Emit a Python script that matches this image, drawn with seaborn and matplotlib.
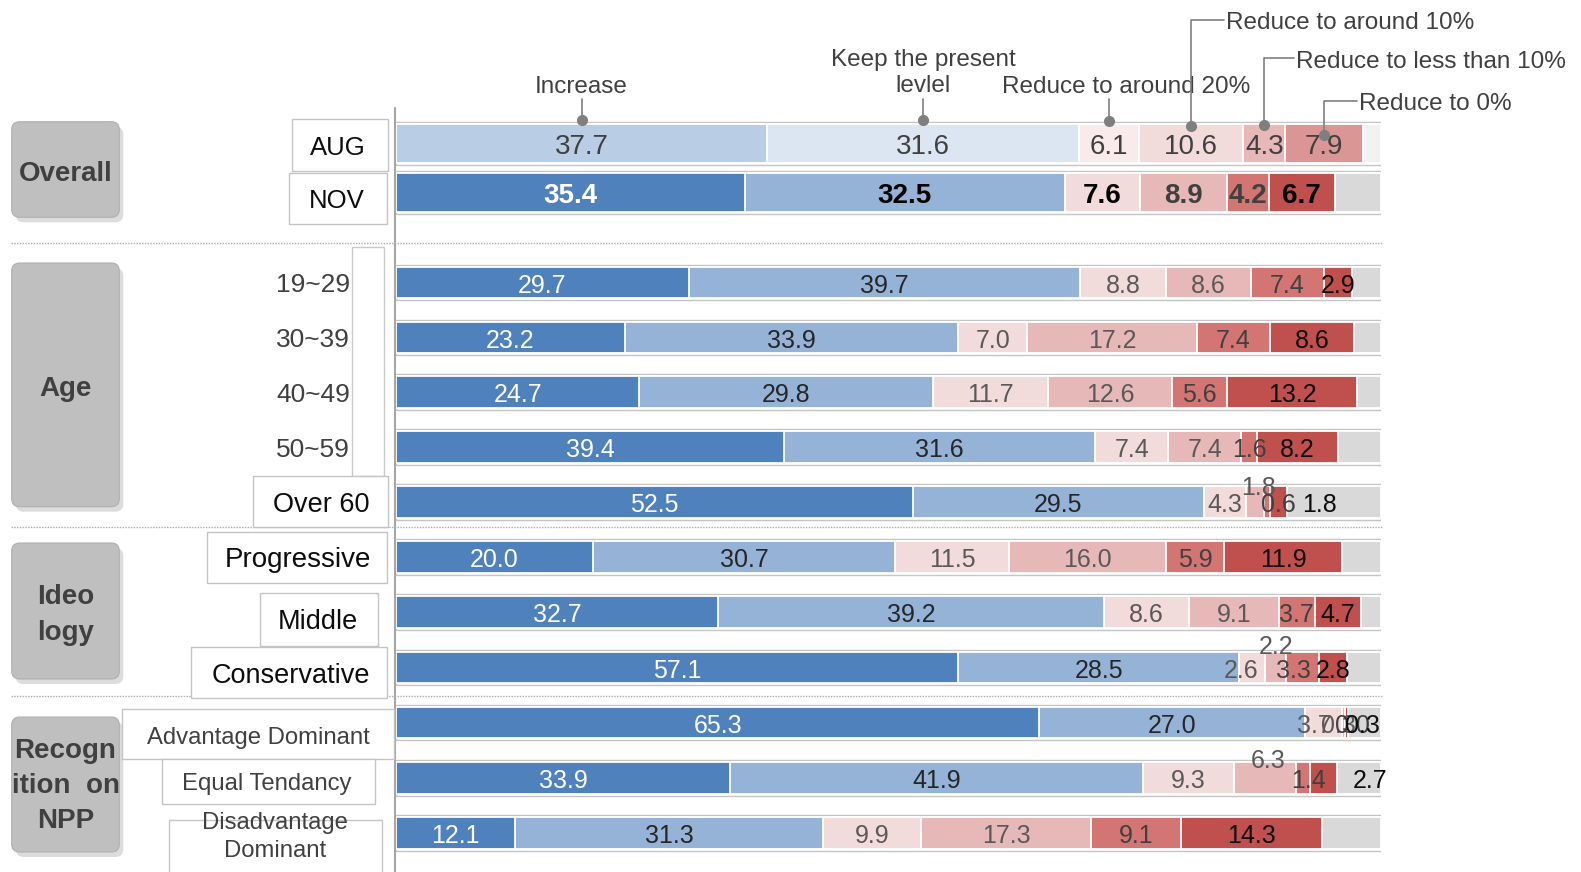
import numpy as np
import pandas as pd
import matplotlib
matplotlib.use("Agg")
import matplotlib.pyplot as plt
from matplotlib.patches import FancyBboxPatch, Rectangle
import seaborn as sns

# ---------------- data ----------------
rows = ["AUG", "NOV", "19~29", "30~39", "40~49", "50~59", "Over 60",
        "Progressive", "Middle", "Conservative",
        "Advantage Dominant", "Equal Tendancy", "Disadvantage Dominant"]
categories = ["Increase", "Keep the present levlel", "Reduce to around 20%",
              "Reduce to around 10%", "Reduce to less than 10%", "Reduce to 0%"]
increase    = [37.7, 35.4, 29.7, 23.2, 24.7, 39.4, 52.5, 20.0, 32.7, 57.1, 65.3, 33.9, 12.1]
keep        = [31.6, 32.5, 39.7, 33.9, 29.8, 31.6, 29.5, 30.7, 39.2, 28.5, 27.0, 41.9, 31.3]
reduce20    = [6.1, 7.6, 8.8, 7.0, 11.7, 7.4, 4.3, 11.5, 8.6, 2.6, 3.7, 9.3, 9.9]
reduce10    = [10.6, 8.9, 8.6, 17.2, 12.6, 7.4, 1.8, 16.0, 9.1, 2.2, 0.3, 6.3, 17.3]
reduce_lt10 = [4.3, 4.2, 7.4, 7.4, 5.6, 1.6, 0.6, 5.9, 3.7, 3.3, 0.0, 1.4, 9.1]
reduce0     = [7.9, 6.7, 2.9, 8.6, 13.2, 8.2, 1.8, 11.9, 4.7, 2.8, 0.3, 2.7, 14.3]
series = [increase, keep, reduce20, reduce10, reduce_lt10, reduce0]
layers = categories + ["No answer"]

# ---------------- style / layout ----------------
sns.set_style("white")
plt.rcParams["font.family"] = ["Liberation Sans", "DejaVu Sans"]

W, H = 1581, 872
X0, X1 = 396, 1381           # pixel extent of the 0..100 scale
TDY = 3                      # small vertical nudge for text centring

row_y = [143.5, 193, 282.5, 337.5, 392, 447, 502, 557, 612, 667.5, 722.5, 778, 833]
bar_h = [39, 39] + [31.5] * 11

pal_main = dict(zip(layers, ["#4F81BD", "#95B3D7", "#F2DCDB", "#E6B9B8",
                             "#D27573", "#C0504D", "#D9D9D9"]))
pal_aug = dict(zip(layers, ["#B9CDE5", "#DCE6F2", "#F9EBEB", "#F2DCDB",
                            "#E6B9B8", "#D99694", "#F2F2F2"]))

fig = plt.figure(figsize=(W / 100, H / 100), dpi=100)
ov = fig.add_axes([0, 0, 1, 1], zorder=0)
ov.set_xlim(0, W)
ov.set_ylim(H, 0)
ov.axis("off")

ax = fig.add_axes([X0 / W, 0, (X1 - X0) / W, 1], zorder=2)
ax.set_facecolor("none")

for i, row in enumerate(rows):
    vals = [s[i] for s in series]
    cum = list(np.cumsum(vals)) + [100.0]
    df = pd.DataFrame({"layer": layers, "end": cum, "y": row_y[i]})
    # thin grey frame around the row
    sns.barplot(data=pd.DataFrame({"end": [100.0], "y": [row_y[i]]}), x="end", y="y",
                orient="h", native_scale=True, width=bar_h[i] + 4, color="white",
                edgecolor="#C4C4C4", linewidth=1.0, saturation=1, errorbar=None, ax=ax)
    sns.barplot(data=df, x="end", y="y", hue="layer", hue_order=layers[::-1],
                palette=pal_aug if i == 0 else pal_main, dodge=False, orient="h",
                native_scale=True, width=bar_h[i], edgecolor="white", linewidth=1.3,
                saturation=1, legend=False, errorbar=None, ax=ax)

# value labels
offsets = {(6, 3): (0.4, -17), (6, 4): (1.2, 0), (6, 5): (4.2, 0),
           (9, 2): (-1.1, 0), (9, 3): (0.0, -24), (9, 4): (-0.9, 0),
           (10, 2): (-0.9, 0), (10, 3): (-0.5, 0), (10, 4): (0.8, 0), (10, 5): (1.7, 0),
           (11, 3): (0.3, -20), (11, 4): (0.5, 0), (11, 5): (4.7, 0)}
col_main = ["white", "#262626", "#595959", "#595959", "#404040", "#0d0d0d"]
col_nov = ["white", "black", "black", "#404040", "#404040", "black"]
for i in range(len(rows)):
    vals = [s[i] for s in series]
    cum = np.cumsum(vals)
    for k, v in enumerate(vals):
        dx, dy = offsets.get((i, k), (0, 0))
        if i == 0:
            c, fw, fs = "#404040", "normal", 20
        elif i == 1:
            c, fw, fs = col_nov[k], "bold", 20
        else:
            c, fw, fs = col_main[k], "normal", 18
        ax.text(cum[k] - v / 2 + dx, row_y[i] + dy + TDY, f"{v:.1f}", ha="center", va="center",
                color=c, fontweight=fw, fontsize=fs, clip_on=False, zorder=5)

# top callouts (on AUG bar)
aug = [s[0] for s in series]
cen = np.cumsum(aug) - np.array(aug) / 2
gcol = "#7F7F7F"
tcol = "#404040"
fs_top = 17.5
for k, ty in [(0, 120), (1, 120), (2, 121)]:
    ax.plot([cen[k], cen[k]], [99, ty], color=gcol, lw=1.2, clip_on=False, zorder=6)
    ax.plot([cen[k]], [ty], "o", color=gcol, ms=7, clip_on=False, zorder=6)
ax.text(cen[0], 84 + TDY, "Increase", ha="center", va="center", fontsize=fs_top,
        color=tcol, clip_on=False)
ax.text(cen[1], 70 + TDY, "Keep the present\nlevlel", ha="center", va="center",
        fontsize=fs_top, color=tcol, linespacing=1.25, clip_on=False)
ax.text(cen[2] + 1.8, 84 + TDY, "Reduce to around 20%", ha="center", va="center",
        fontsize=fs_top, color=tcol, clip_on=False)
for k, ty, dot_y, dxu in [(3, 20, 126, 3.6), (4, 58.5, 125, 3.2), (5, 101, 135, 3.5)]:
    ax.plot([cen[k] + dxu - 0.2, cen[k], cen[k]], [ty, ty, dot_y], color=gcol, lw=1.2,
            clip_on=False, zorder=6)
    ax.plot([cen[k]], [dot_y], "o", color=gcol, ms=7, clip_on=False, zorder=6)
    ax.text(cen[k] + dxu, ty + TDY, categories[k], ha="left", va="center", fontsize=fs_top,
            color=tcol, clip_on=False)

ax.set_xlim(0, 100)
ax.set_ylim(H, 0)
ax.axis("off")

# ---------------- left side (overlay, pixel coords) ----------------
ov.plot([394.5, 394.5], [108, H], color="#A6A6A6", lw=1.5)
for sy in [243.3, 526.7, 695.7]:
    ov.plot([11, X1 + 2], [sy, sy], color="#ABABAB", lw=1.0, ls=(0, (1, 1)))

groups = [("Overall", 121.7, 217.3, 171, 1.3), ("Age", 263, 506.7, 386, 1.3),
          ("Ideo\nlogy", 543, 679, 612, 1.5), ("Recogn\nition  on\nNPP", 717, 852, 783, 1.43)]
for lab, y0, y1, ty, ls in groups:
    sh = FancyBboxPatch((11.7 + 4, y0 + 5), 107.6, y1 - y0, boxstyle="round,pad=0,rounding_size=8",
                        fc="#8C8C8C", ec="none", alpha=0.3, zorder=1)
    ov.add_patch(sh)
    bx = FancyBboxPatch((11.7, y0), 107.6, y1 - y0, boxstyle="round,pad=0,rounding_size=8",
                        fc="#BFBFBF", ec="#B0B0B0", lw=0.8, zorder=2)
    ov.add_patch(bx)
    ov.text(65.5, ty + TDY, lab, ha="center", va="center", fontsize=20, fontweight="bold",
            color="#404040", linespacing=ls, zorder=3)

# age frame
ov.add_patch(Rectangle((352, 247), 32, 229, fc="white", ec="#C8C8C8", lw=1, zorder=2))

label_boxes = [
    ("AUG", (292, 119, 388, 171), (338, 145), 18.5, "#0d0d0d"),
    ("NOV", (289, 173, 387, 224), (337, 198), 18.5, "#0d0d0d"),
    ("Over 60", (253, 476, 388, 527), (321, 502), 19.5, "#0d0d0d"),
    ("Progressive", (207, 532, 387, 583), (298, 557), 20, "#0d0d0d"),
    ("Middle", (260, 593, 378, 646), (317.5, 619), 19.5, "#0d0d0d"),
    ("Conservative", (191, 647, 387, 698), (291, 673), 19.5, "#0d0d0d"),
    ("Advantage Dominant", (122, 709, 394, 759), (258, 735), 17.2, "#404040"),
    ("Equal Tendancy", (162, 759, 375, 804), (267, 781), 17.2, "#404040"),
    ("Disadvantage\nDominant", (169, 820, 382, 880), (275, 834), 17.2, "#404040"),
]
for j, (lab, (x0, y0, x1, y1), (tx, ty), fs, c) in enumerate(label_boxes):
    ov.add_patch(Rectangle((x0, y0), x1 - x0, y1 - y0, fc="white", ec="#C4C4C4", lw=1,
                           zorder=3 + j * 0.01))
    ov.text(tx, ty + TDY, lab, ha="center", va="center", fontsize=fs, color=c,
            linespacing=1.3, zorder=4)

for lab, ty in zip(rows[2:6], [282, 337, 392, 447]):
    ov.text(350, ty + TDY, lab, ha="right", va="center", fontsize=19, color="#404040", zorder=4)

fig.savefig("out.png", dpi=100)
